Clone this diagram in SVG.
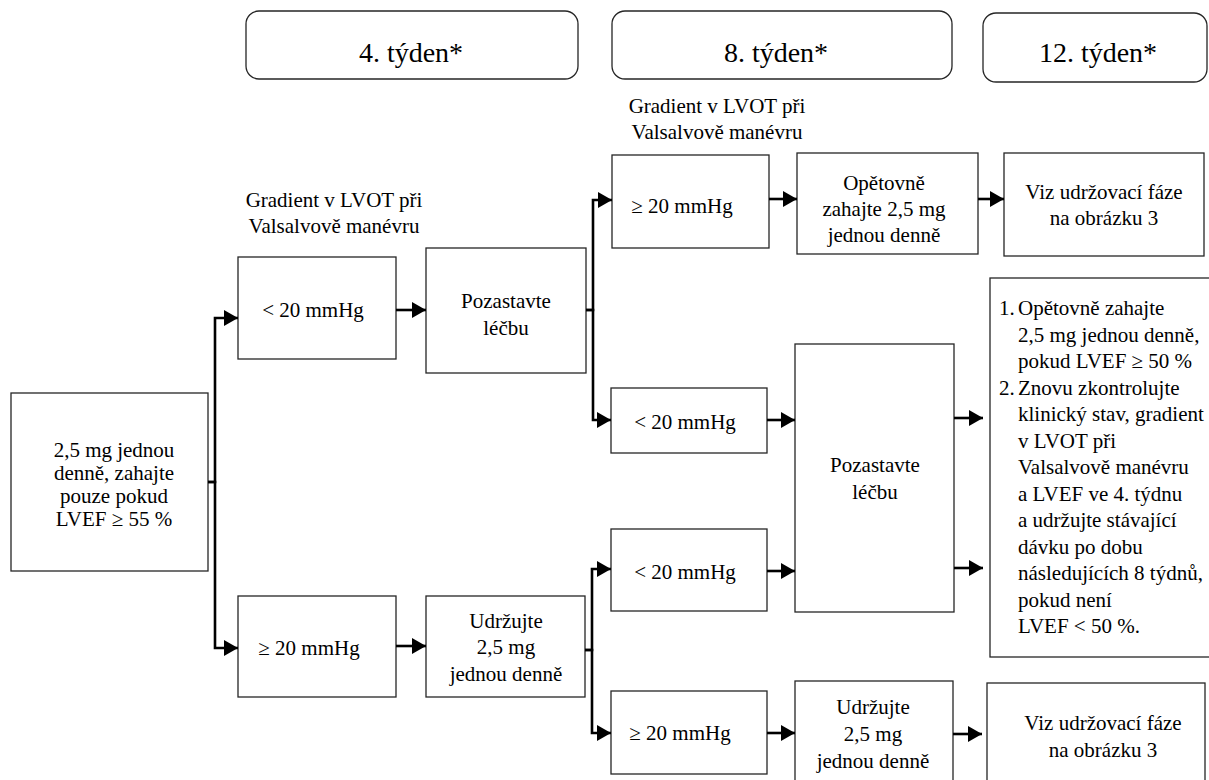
<svg xmlns="http://www.w3.org/2000/svg" width="1209" height="780" viewBox="0 0 1209 780" font-family="'Liberation Serif', Tinos, 'DejaVu Serif', 'Noto Serif', 'Times New Roman', serif">
<style>
.box{fill:#fff;stroke:#262626;stroke-width:1.3}
.hdr{fill:#fff;stroke:#262626;stroke-width:1.3}
text{font-family:'Liberation Serif', Tinos, 'DejaVu Serif', 'Noto Serif', 'Times New Roman', serif;font-size:21px;fill:#000}
.c{text-anchor:middle}
.h{font-size:28px;text-anchor:middle}
.con{fill:none;stroke:#000;stroke-width:2.6;marker-end:url(#ah)}
</style>
<defs>
<marker id="ah" markerUnits="userSpaceOnUse" markerWidth="15" markerHeight="16" refX="14" refY="8" orient="auto">
<path d="M0,0 L14,8 L0,16 z" fill="#000"/>
</marker>
</defs>
<rect width="1209" height="780" fill="#fff"/>

<g id="hdr-4">
<rect class="hdr" x="246" y="11" width="332" height="68" rx="13"/>
<text class="h" x="411" y="62">4. týden*</text>
</g>
<g id="hdr-8">
<rect class="hdr" x="612" y="11" width="340" height="68" rx="13"/>
<text class="h" x="776" y="62">8. týden*</text>
</g>
<g id="hdr-12">
<rect class="hdr" x="983" y="13" width="224" height="69" rx="13"/>
<text class="h" x="1098" y="62">12. týden*</text>
</g>

<g id="label-left">
<text class="c" x="334" y="207">Gradient v LVOT při</text>
<text class="c" x="334" y="233">Valsalvově manévru</text>
</g>
<g id="label-top">
<text class="c" x="717" y="113">Gradient v LVOT při</text>
<text class="c" x="717" y="139">Valsalvově manévru</text>
</g>

<g id="start">
<rect class="box" x="11" y="393" width="197" height="178"/>
<text class="c" x="114" y="457">2,5 mg jednou</text>
<text class="c" x="114" y="480">denně, zahajte</text>
<text class="c" x="114" y="503">pouze pokud</text>
<text class="c" x="114" y="526">LVEF ≥ 55 %</text>
</g>

<g id="w4-lt20">
<rect class="box" x="238" y="257" width="158" height="102"/>
<text class="c" x="313" y="317">&lt; 20 mmHg</text>
</g>
<g id="w4-ge20">
<rect class="box" x="238" y="596" width="158" height="101"/>
<text class="c" x="309" y="655">≥ 20 mmHg</text>
</g>

<g id="w4-stop">
<rect class="box" x="426" y="248" width="160" height="125"/>
<text class="c" x="506" y="308">Pozastavte</text>
<text class="c" x="506" y="335">léčbu</text>
</g>
<g id="w4-keep">
<rect class="box" x="426" y="596" width="159" height="101"/>
<text class="c" x="506" y="628">Udržujte</text>
<text class="c" x="506" y="654">2,5 mg</text>
<text class="c" x="506" y="681">jednou denně</text>
</g>

<g id="w8-a-ge20">
<rect class="box" x="612" y="155" width="157" height="93"/>
<text class="c" x="682" y="213">≥ 20 mmHg</text>
</g>
<g id="w8-a-lt20">
<rect class="box" x="611" y="388" width="156" height="65"/>
<text class="c" x="685" y="429">&lt; 20 mmHg</text>
</g>
<g id="w8-b-lt20">
<rect class="box" x="611" y="529" width="156" height="82"/>
<text class="c" x="685" y="579">&lt; 20 mmHg</text>
</g>
<g id="w8-b-ge20">
<rect class="box" x="611" y="691" width="156" height="83"/>
<text class="c" x="680" y="740">≥ 20 mmHg</text>
</g>

<g id="w8-restart">
<rect class="box" x="797" y="153" width="181" height="101"/>
<text class="c" x="884" y="190">Opětovně</text>
<text class="c" x="884" y="216">zahajte 2,5 mg</text>
<text class="c" x="884" y="242">jednou denně</text>
</g>
<g id="w8-stop">
<rect class="box" x="795" y="344" width="159" height="268"/>
<text class="c" x="875" y="472">Pozastavte</text>
<text class="c" x="875" y="499">léčbu</text>
</g>
<g id="w8-keep">
<rect class="box" x="795" y="681" width="158" height="110"/>
<text class="c" x="873" y="714">Udržujte</text>
<text class="c" x="873" y="741">2,5 mg</text>
<text class="c" x="873" y="768">jednou denně</text>
</g>

<g id="w12-see-a">
<rect class="box" x="1004" y="153" width="200" height="103"/>
<text class="c" x="1104" y="199">Viz udržovací fáze</text>
<text class="c" x="1104" y="225">na obrázku 3</text>
</g>
<g id="w12-steps">
<rect class="box" x="990" y="278" width="230" height="379"/>
<text x="999" y="315">1.</text><text x="1018" y="315">Opětovně zahajte</text>
<text x="1018" y="341.5">2,5 mg jednou denně,</text>
<text x="1018" y="368">pokud LVEF ≥ 50 %</text>
<text x="999" y="394.5">2.</text><text x="1018" y="394.5">Znovu zkontrolujte</text>
<text x="1018" y="421">klinický stav, gradient</text>
<text x="1018" y="447.5">v LVOT při</text>
<text x="1018" y="474">Valsalvově manévru</text>
<text x="1018" y="500.5">a LVEF ve 4. týdnu</text>
<text x="1018" y="527">a udržujte stávající</text>
<text x="1018" y="553.5">dávku po dobu</text>
<text x="1018" y="580">následujících 8 týdnů,</text>
<text x="1018" y="606.5">pokud není</text>
<text x="1018" y="633">LVEF &lt; 50 %.</text>
</g>
<g id="w12-see-b">
<rect class="box" x="987" y="683" width="218" height="110"/>
<text class="c" x="1103" y="730">Viz udržovací fáze</text>
<text class="c" x="1103" y="757">na obrázku 3</text>
</g>

<g id="connectors">
<path class="con" d="M208,482 H215 V318 H238"/>
<path class="con" d="M208,482 H215 V648 H238"/>
<path class="con" d="M396,310 H426"/>
<path class="con" d="M396,646 H426"/>
<path class="con" d="M586,310 H593 V200 H612"/>
<path class="con" d="M586,310 H593 V420 H611"/>
<path class="con" d="M585,650 H592 V569 H611"/>
<path class="con" d="M585,650 H592 V733 H611"/>
<path class="con" d="M769,199 H797"/>
<path class="con" d="M978,199 H1004"/>
<path class="con" d="M767,420 H795"/>
<path class="con" d="M767,571 H795"/>
<path class="con" d="M954,418 H983"/>
<path class="con" d="M954,568 H983"/>
<path class="con" d="M767,733 H795"/>
<path class="con" d="M953,734 H982"/>
</g>
</svg>
